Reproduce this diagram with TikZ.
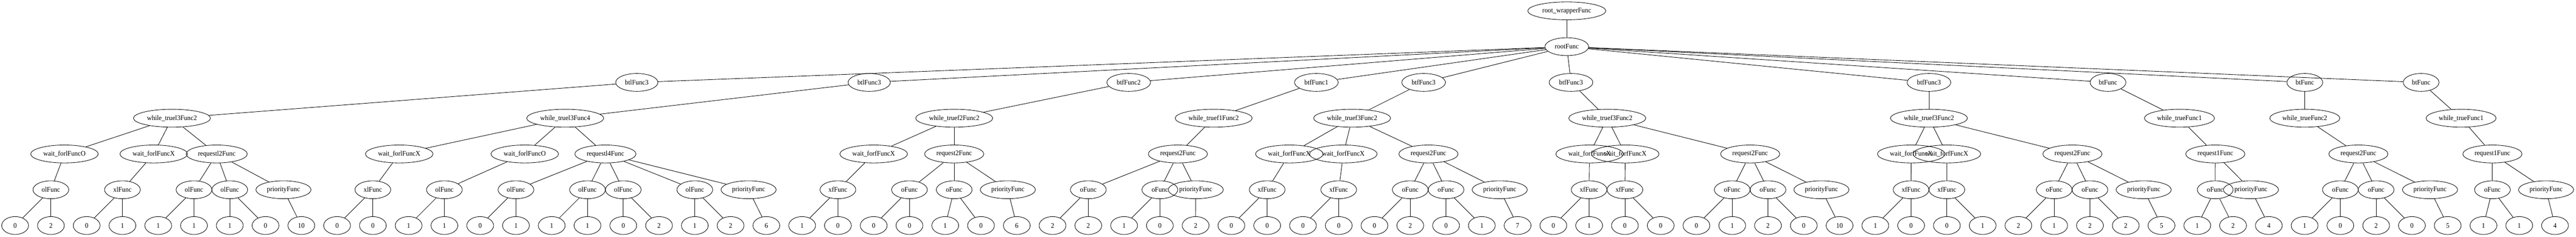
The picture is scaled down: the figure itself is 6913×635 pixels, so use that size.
\documentclass[tikz,border=0pt]{standalone}
\usepackage{fontspec}
\setmainfont{Liberation Serif}[FakeStretch=0.95]
\usetikzlibrary{shapes.geometric}
\tikzset{
  gvnode/.style={ellipse, draw, line width=0.9pt, inner sep=0pt, minimum height=36pt, font=\fontsize{14}{16}\selectfont},
  leafnode/.style={gvnode, minimum width=54pt},
  fnode/.style={gvnode, minimum width=72pt},
  prionode/.style={gvnode, minimum width=111pt},
  reqnode/.style={gvnode, minimum width=119pt},
  reqlnode/.style={gvnode, minimum width=123pt},
  waitnode/.style={gvnode, minimum width=136pt},
  whilenode/.style={gvnode, minimum width=155pt},
  whileshort/.style={gvnode, minimum width=141pt},
  btlnode/.style={gvnode, minimum width=85pt},
  btfnode/.style={gvnode, minimum width=88pt},
  wrapnode/.style={gvnode, minimum width=157pt},
  conn/.style={line width=0.9pt}
}
\begin{document}
\begin{tikzpicture}[x=0.75pt, y=-0.75pt]
\useasboundingbox (0,0) rectangle (6913,635);
% level 0 and 1
\node[wrapnode] (rw) at (4204.6,29.2) {root\_wrapperFunc};
\node[btfnode] (rt) at (4204.6,125.2) {rootFunc};
% level 2
\node[btlnode] (d1) at (1708.9,221.2) {btlFunc3};
\node[btlnode] (d2) at (2332.6,221.2) {btlFunc3};
\node[btfnode] (d3) at (3029,221.2) {btfFunc2};
\node[btfnode] (d4) at (3532.6,221.2) {btfFunc1};
\node[btfnode] (d5) at (3820.4,221.2) {btfFunc3};
\node[btfnode] (d6) at (4216,221.2) {btfFunc3};
\node[btfnode] (d7) at (5176.5,221.2) {btfFunc3};
\node[fnode] (d8) at (5657.1,221.2) {btFunc};
\node[fnode] (d9) at (6185.2,221.2) {btFunc};
\node[fnode] (d10) at (6497.4,221.2) {btFunc};
% level 3
\node[whilenode] (c1) at (461.5,317.2) {while\_truel3Func2};
\node[whilenode] (c2) at (1516.8,317.2) {while\_truel3Func4};
\node[whilenode] (c3) at (2560.7,317.2) {while\_truef2Func2};
\node[whilenode] (c4) at (3257,317.2) {while\_truef1Func2};
\node[whilenode] (c5) at (3628.5,317.2) {while\_truef3Func2};
\node[whilenode] (c6) at (4313.3,317.2) {while\_truef3Func2};
\node[whilenode] (c7) at (5176.5,317.2) {while\_truef3Func2};
\node[whileshort] (c8) at (5848.8,317.2) {while\_trueFunc1};
\node[whileshort] (c9) at (6185.2,317.2) {while\_trueFunc2};
\node[whileshort] (c10) at (6604.6,317.2) {while\_trueFunc1};
% level 4
\node[waitnode] (b1) at (173,413.2) {wait\_forlFuncO};
\node[waitnode] (b2) at (412.5,413.2) {wait\_forlFuncX};
\node[reqlnode] (b3) at (581.6,413.2) {requestl2Func};
\node[waitnode] (b4) at (1071.4,413.2) {wait\_forlFuncX};
\node[waitnode] (b5) at (1408.2,413.2) {wait\_forlFuncO};
\node[reqlnode] (b6) at (1624.7,413.2) {requestl4Func};
\node[waitnode] (b7) at (2344.6,413.2) {wait\_forfFuncX};
\node[reqnode] (b8) at (2560.7,413.2) {request2Func};
\node[reqnode] (b9) at (3161,413.2) {request2Func};
\node[waitnode] (b10) at (3460,413.2) {wait\_forfFuncX};
\node[waitnode] (b11) at (3605,413.2) {wait\_forfFuncX};
\node[reqnode] (b12) at (3833.4,413.2) {request2Func};
\node[waitnode] (b13) at (4265.8,413.2) {wait\_forfFuncX};
\node[waitnode] (b14) at (4361.5,413.2) {wait\_forfFuncX};
\node[reqnode] (b15) at (4696.7,413.2) {request2Func};
\node[waitnode] (b16) at (5129,413.2) {wait\_forfFuncX};
\node[waitnode] (b17) at (5224.7,413.2) {wait\_forfFuncX};
\node[reqnode] (b18) at (5561.5,413.2) {request2Func};
\node[reqnode] (b19) at (5945,413.2) {request1Func};
\node[reqnode] (b20) at (6329,413.2) {request2Func};
\node[reqnode] (b21) at (6688.7,413.2) {request1Func};
% level 5
\node[fnode] (a1) at (136.6,509.2) {olFunc};
\node[fnode] (a2) at (328.6,509.2) {xlFunc};
\node[fnode] (a3) at (520.6,509.2) {olFunc};
\node[fnode] (a4) at (616.6,509.2) {olFunc};
\node[prionode] (a5) at (760.7,509.2) {priorityFunc};
\node[fnode] (a6) at (1000.6,509.2) {xlFunc};
\node[fnode] (a7) at (1192.6,509.2) {olFunc};
\node[fnode] (a8) at (1384.6,509.2) {olFunc};
\node[fnode] (a9) at (1576.6,509.2) {olFunc};
\node[fnode] (a10) at (1672.6,509.2) {olFunc};
\node[fnode] (a11) at (1864.6,509.2) {olFunc};
\node[prionode] (a12) at (2008.9,509.2) {priorityFunc};
\node[fnode] (a13) at (2248.6,509.2) {xfFunc};
\node[fnode] (a14) at (2440.6,509.2) {oFunc};
\node[fnode] (a15) at (2560.7,509.2) {oFunc};
\node[prionode] (a16) at (2704.6,509.2) {priorityFunc};
\node[fnode] (a17) at (2920.6,509.2) {oFunc};
\node[fnode] (a18) at (3112.6,509.2) {oFunc};
\node[prionode] (a19) at (3208.9,509.2) {priorityFunc};
\node[fnode] (a20) at (3400.6,509.2) {xfFunc};
\node[fnode] (a21) at (3592.6,509.2) {xfFunc};
\node[fnode] (a22) at (3784.6,509.2) {oFunc};
\node[fnode] (a23) at (3880.6,509.2) {oFunc};
\node[prionode] (a24) at (4024.7,509.2) {priorityFunc};
\node[fnode] (a25) at (4264.6,509.2) {xfFunc};
\node[fnode] (a26) at (4360.6,509.2) {xfFunc};
\node[fnode] (a27) at (4648.6,509.2) {oFunc};
\node[fnode] (a28) at (4744.6,509.2) {oFunc};
\node[prionode] (a29) at (4888,509.2) {priorityFunc};
\node[fnode] (a30) at (5128.6,509.2) {xfFunc};
\node[fnode] (a31) at (5224.6,509.2) {xfFunc};
\node[fnode] (a32) at (5512.6,509.2) {oFunc};
\node[fnode] (a33) at (5608.6,509.2) {oFunc};
\node[prionode] (a34) at (5752.8,509.2) {priorityFunc};
\node[fnode] (a35) at (5944.6,509.2) {oFunc};
\node[prionode] (a36) at (6040.6,509.2) {priorityFunc};
\node[fnode] (a37) at (6280.6,509.2) {oFunc};
\node[fnode] (a38) at (6376.6,509.2) {oFunc};
\node[prionode] (a39) at (6521.2,509.2) {priorityFunc};
\node[fnode] (a40) at (6688.7,509.2) {oFunc};
\node[prionode] (a41) at (6832.6,509.2) {priorityFunc};
% level 6 (leaves)
\foreach \v [count=\i] in {0,2,0,1,1,1,1,0,10,0, 0,1,1,0,1,1,1,0,2,1, 2,6,1,0,0,0,1,0,6,2, 2,1,0,2,0,0,0,0,0,2, 0,1,7,0,1,0,0,0,1,2, 0,10,1,0,0,1,2,1,2,2, 5,1,2,4,1,0,2,0,5,1, 1,4}
  \node[leafnode] (l\i) at ({40.6+96*(\i-1)},605.2) {\v};
% connectors
\draw[conn] (rw) -- (rt);
\foreach \c in {d1,d2,d3,d4,d5,d6,d7,d8,d9,d10} \draw[conn] (rt) -- (\c);
\foreach \p/\c in {d1/c1,d2/c2,d3/c3,d4/c4,d5/c5,d6/c6,d7/c7,d8/c8,d9/c9,d10/c10,
  c1/b1,c1/b2,c1/b3,c2/b4,c2/b5,c2/b6,c3/b7,c3/b8,c4/b9,c5/b10,c5/b11,c5/b12,
  c6/b13,c6/b14,c6/b15,c7/b16,c7/b17,c7/b18,c8/b19,c9/b20,c10/b21,
  b1/a1,b2/a2,b3/a3,b3/a4,b3/a5,b4/a6,b5/a7,b6/a8,b6/a9,b6/a10,b6/a11,b6/a12,
  b7/a13,b8/a14,b8/a15,b8/a16,b9/a17,b9/a18,b9/a19,b10/a20,b11/a21,
  b12/a22,b12/a23,b12/a24,b13/a25,b14/a26,b15/a27,b15/a28,b15/a29,
  b16/a30,b17/a31,b18/a32,b18/a33,b18/a34,b19/a35,b19/a36,
  b20/a37,b20/a38,b20/a39,b21/a40,b21/a41}
  \draw[conn] (\p) -- (\c);
\foreach \p/\c in {a1/l1,a1/l2,a2/l3,a2/l4,a3/l5,a3/l6,a4/l7,a4/l8,a5/l9,a6/l10,a6/l11,
  a7/l12,a7/l13,a8/l14,a8/l15,a9/l16,a9/l17,a10/l18,a10/l19,a11/l20,a11/l21,a12/l22,
  a13/l23,a13/l24,a14/l25,a14/l26,a15/l27,a15/l28,a16/l29,a17/l30,a17/l31,a18/l32,a18/l33,
  a19/l34,a20/l35,a20/l36,a21/l37,a21/l38,a22/l39,a22/l40,a23/l41,a23/l42,a24/l43,
  a25/l44,a25/l45,a26/l46,a26/l47,a27/l48,a27/l49,a28/l50,a28/l51,a29/l52,
  a30/l53,a30/l54,a31/l55,a31/l56,a32/l57,a32/l58,a33/l59,a33/l60,a34/l61,
  a35/l62,a35/l63,a36/l64,a37/l65,a37/l66,a38/l67,a38/l68,a39/l69,a40/l70,a40/l71,a41/l72}
  \draw[conn] (\p) -- (\c);
\end{tikzpicture}
\end{document}
